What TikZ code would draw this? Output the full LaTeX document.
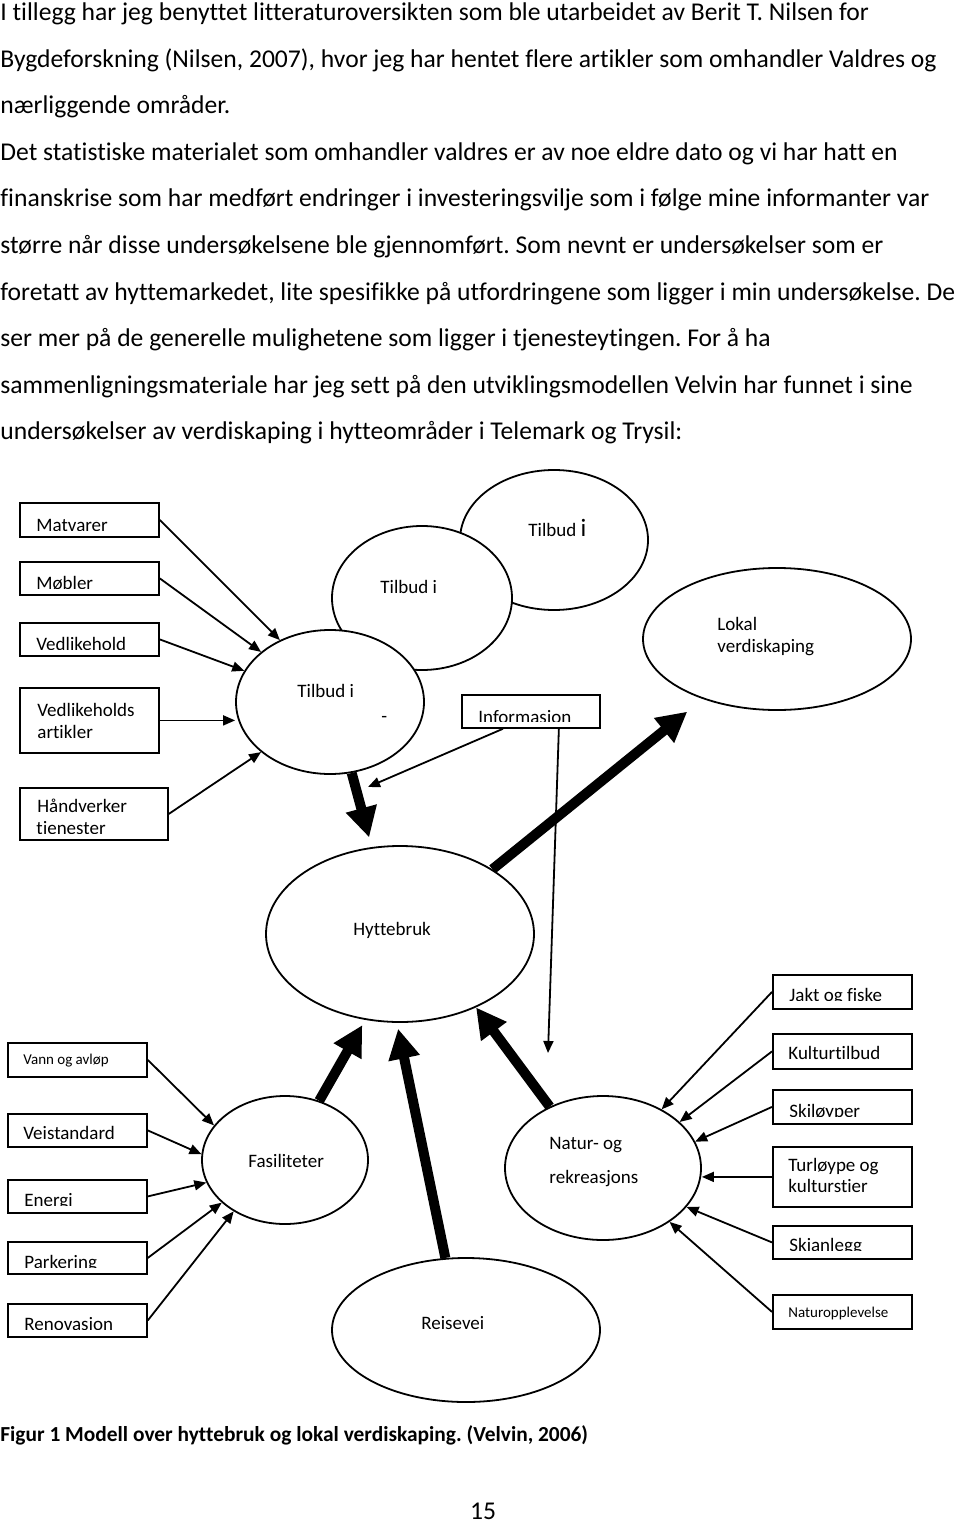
\documentclass[tikz,border=0pt]{standalone}
\usepackage{fontspec}
\setmainfont{Carlito}[Ligatures=CommonOff]
\usepackage{tikz}
\usetikzlibrary{shapes.geometric, arrows.meta, calc}
\frenchspacing
\tikzstyle{box} = [draw,line width=0.9pt,rectangle,anchor=north west,inner sep=0pt]
\tikzstyle{blob} = [draw,line width=0.9pt,ellipse,fill=white,inner sep=0pt]
\tikzstyle{lbl} = [inner sep=0pt,anchor=base west,font=\fontsize{9.5}{11}\selectfont]
\tikzstyle{tiny} = [lbl,font=\fontsize{7.5}{9}\selectfont]
\tikzstyle{body} = [inner sep=0pt,anchor=base west,font=\fontsize{12.8}{15}\selectfont]
\tikzstyle{arrow} = [line width=0.9pt,-{Triangle[length=6pt,width=5pt]}]
\tikzstyle{fat} = [line width=5pt,-{Triangle[length=15pt,width=15pt]}]
% box whose label is cut off at the bottom
\newcommand{\cutbox}[6]{%
  \node[box,minimum width=#3,minimum height=#4] (#1) at (#2) {};
  \begin{scope}
    \clip (#1.north west) rectangle ([yshift=#5+0.8pt]#1.south east);
    \node[lbl] (#1t) at ([xshift=8.5pt,yshift=#5]#1.south west) {#6};
  \end{scope}}

\begin{document}
\begin{tikzpicture}[x=0.5pt,y=-0.5pt]
\useasboundingbox (0,0) rectangle (960,1524);

% text above the figure
\foreach \txt [count=\i] in {%
  {I tillegg har jeg benyttet litteraturoversikten som ble utarbeidet av Berit T. Nilsen for},
  {Bygdeforskning (Nilsen, 2007), hvor jeg har hentet flere artikler som omhandler Valdres og},
  {nærliggende områder.},
  {Det statistiske materialet som omhandler valdres er av noe eldre dato og vi har hatt en},
  {finanskrise som har medført endringer i investeringsvilje som i følge mine informanter var},
  {større når disse undersøkelsene ble gjennomført. Som nevnt er undersøkelser som er},
  {foretatt av hyttemarkedet, lite spesifikke på utfordringene som ligger i min undersøkelse. De},
  {ser mer på de generelle mulighetene som ligger i tjenesteytingen. For å ha},
  {sammenligningsmateriale har jeg sett på den utviklingsmodellen Velvin har funnet i sine},
  {undersøkelser av verdiskaping i hytteområder i Telemark og Trysil:}}
  \node[body] (line\i) at (0,{20.5+46.6*(\i-1)}) {\txt};

% ellipses
\node[blob,minimum width=94pt,minimum height=70pt] (t3) at (554,540) {};
\node[blob,minimum width=90pt,minimum height=72pt] (t2) at (422,598) {};
\node[blob,minimum width=94pt,minimum height=72pt] (t1) at (330,702) {};
\node[blob,minimum width=134pt,minimum height=71pt] (lok) at (777,639) {};
\node[blob,minimum width=134pt,minimum height=88pt] (hb) at (400,934) {};
\node[blob,minimum width=83pt,minimum height=64pt] (fas) at (285,1160) {};
\node[blob,minimum width=98pt,minimum height=72pt] (nat) at (603,1168) {};
\node[blob,minimum width=134pt,minimum height=72pt] (reis) at (466,1330) {};

\node[lbl] (t3t) at (528,536) {Tilbud {\fontsize{12.5}{14}\selectfont i}};
\node[lbl] (t2t) at (380,593) {Tilbud i};
\node[lbl] (t1t) at (297,697) {Tilbud i};
\node[lbl] (t1d) at (381,722) {-};
\node[lbl] (lokt) at (717,630) {Lokal};
\node[lbl] (lokt2) at (717,652) {verdiskaping};
\node[lbl] (hbt) at (353,935) {Hyttebruk};
\node[lbl] (fast) at (248,1167) {Fasiliteter};
\node[lbl] (reist) at (421,1329) {Reisevei};
\node[lbl] (natt) at (549,1149) {Natur- og};
\node[lbl] (natt2) at (549,1183) {rekreasjons};

% boxes left, top
\cutbox{mat}{19,502}{69.5pt}{17pt}{3pt}{Matvarer}
\cutbox{mob}{19,561}{69.5pt}{16.5pt}{3pt}{Møbler}
\cutbox{ved}{19,622}{69.5pt}{16.5pt}{3pt}{Vedlikehold}
\node[box,minimum width=69.5pt,minimum height=32.5pt] (vart) at (19,687) {};
\node[lbl] (vartt) at (37,716) {Vedlikeholds};
\node[lbl] (vartt2) at (37,738) {artikler};
\cutbox{hand}{19,787}{74pt}{26pt}{3pt}{tjenester}
\node[lbl] (handt2) at (37,812) {Håndverker};
\cutbox{info}{461,694}{69pt}{16.5pt}{2.75pt}{Informasjon}

% boxes right
\cutbox{jakt}{772,974}{69.5pt}{17pt}{4pt}{Jakt og fiske}
\node[box,minimum width=69.5pt,minimum height=17.5pt] (kult) at (772,1033) {};
\node[lbl] (kultt) at (788,1059) {Kulturtilbud};
\cutbox{skil}{772,1089}{69.5pt}{17pt}{3.5pt}{Skiløyper}
\node[box,minimum width=69.5pt,minimum height=30pt] (turl) at (772,1146) {};
\node[lbl] (turlt) at (788,1171) {Turløype og};
\node[lbl] (turlt2) at (788,1192) {kulturstier};
\cutbox{skia}{772,1225}{69.5pt}{16.5pt}{4pt}{Skianlegg}
\node[box,minimum width=69.5pt,minimum height=17pt] (natopp) at (772,1294) {};
\node[tiny] (natoppt) at (788,1317) {Naturopplevelse};

% boxes left, bottom
\node[box,minimum width=69.5pt,minimum height=17pt] (vann) at (7,1042) {};
\node[tiny] (vannt) at (23,1064) {Vann og avløp};
\node[box,minimum width=69.5pt,minimum height=16.5pt] (vei) at (7,1113) {};
\node[lbl] (veit) at (23,1139) {Veistandard};
\cutbox{ene}{7,1179}{69.5pt}{16.5pt}{3.5pt}{Energi}
\cutbox{park}{7,1241}{69.5pt}{16pt}{3pt}{Parkering}
\cutbox{reno}{7,1303}{69.5pt}{16.5pt}{3.5pt}{Renovasjon}

% thin arrows
\draw[arrow] (mat.east) -- (t1.129);
\draw[arrow] (mob.east) -- (t1.144);
\draw[arrow] (ved.east) -- (t1.160);
\draw[arrow] (vart.east) -- (t1.west |- vart.east);
\draw[arrow] (hand.east) -- (t1.216);

\coordinate (infoend) at (368,787);
\coordinate (infodown) at (548,1053);
\draw[arrow] ($(info.south west)!0.3!(info.south east)$) -- (infoend);
\draw[arrow] ($(info.south west)!0.7!(info.south east)$) -- (infodown);

\draw[arrow] (jakt.west) -- (nat.45);
\draw[arrow] (kult.west) -- (nat.31);
\draw[arrow] (skil.west) -- (nat.16);
\draw[arrow] (turl.west) -- (nat.east |- turl.west);
\draw[arrow] (skia.west) -- (nat.335);
\draw[arrow] (natopp.west) -- (nat.321);

\draw[arrow] (vann.east) -- (fas.154);
\draw[arrow] (vei.east) -- (fas.176);
\draw[arrow] (ene.east) -- (fas.196);
\draw[arrow] (park.east) -- (fas.214);
\draw[arrow] (reno.east) -- (fas.225);

% thick arrows
\draw[fat,shorten >=5pt] (t1.287) -- (hb.108);
\draw[fat,shorten >=10pt] (hb.35) -- (lok.219);
\draw[fat,shorten >=3pt] (fas.60) -- (hb.248);
\draw[fat,shorten >=3pt] (reis.106) -- (hb.268);
\draw[fat] (nat.131) -- (hb.316);

\node[inner sep=0pt,anchor=base west,font=\fontsize{10.7}{12}\selectfont\bfseries] (cap) at (0,1441) {Figur 1 Modell over hyttebruk og lokal verdiskaping. (Velvin, 2006)};
\node[body,anchor=base] (pnum) at (483,1519) {15};
\end{tikzpicture}
\end{document}
